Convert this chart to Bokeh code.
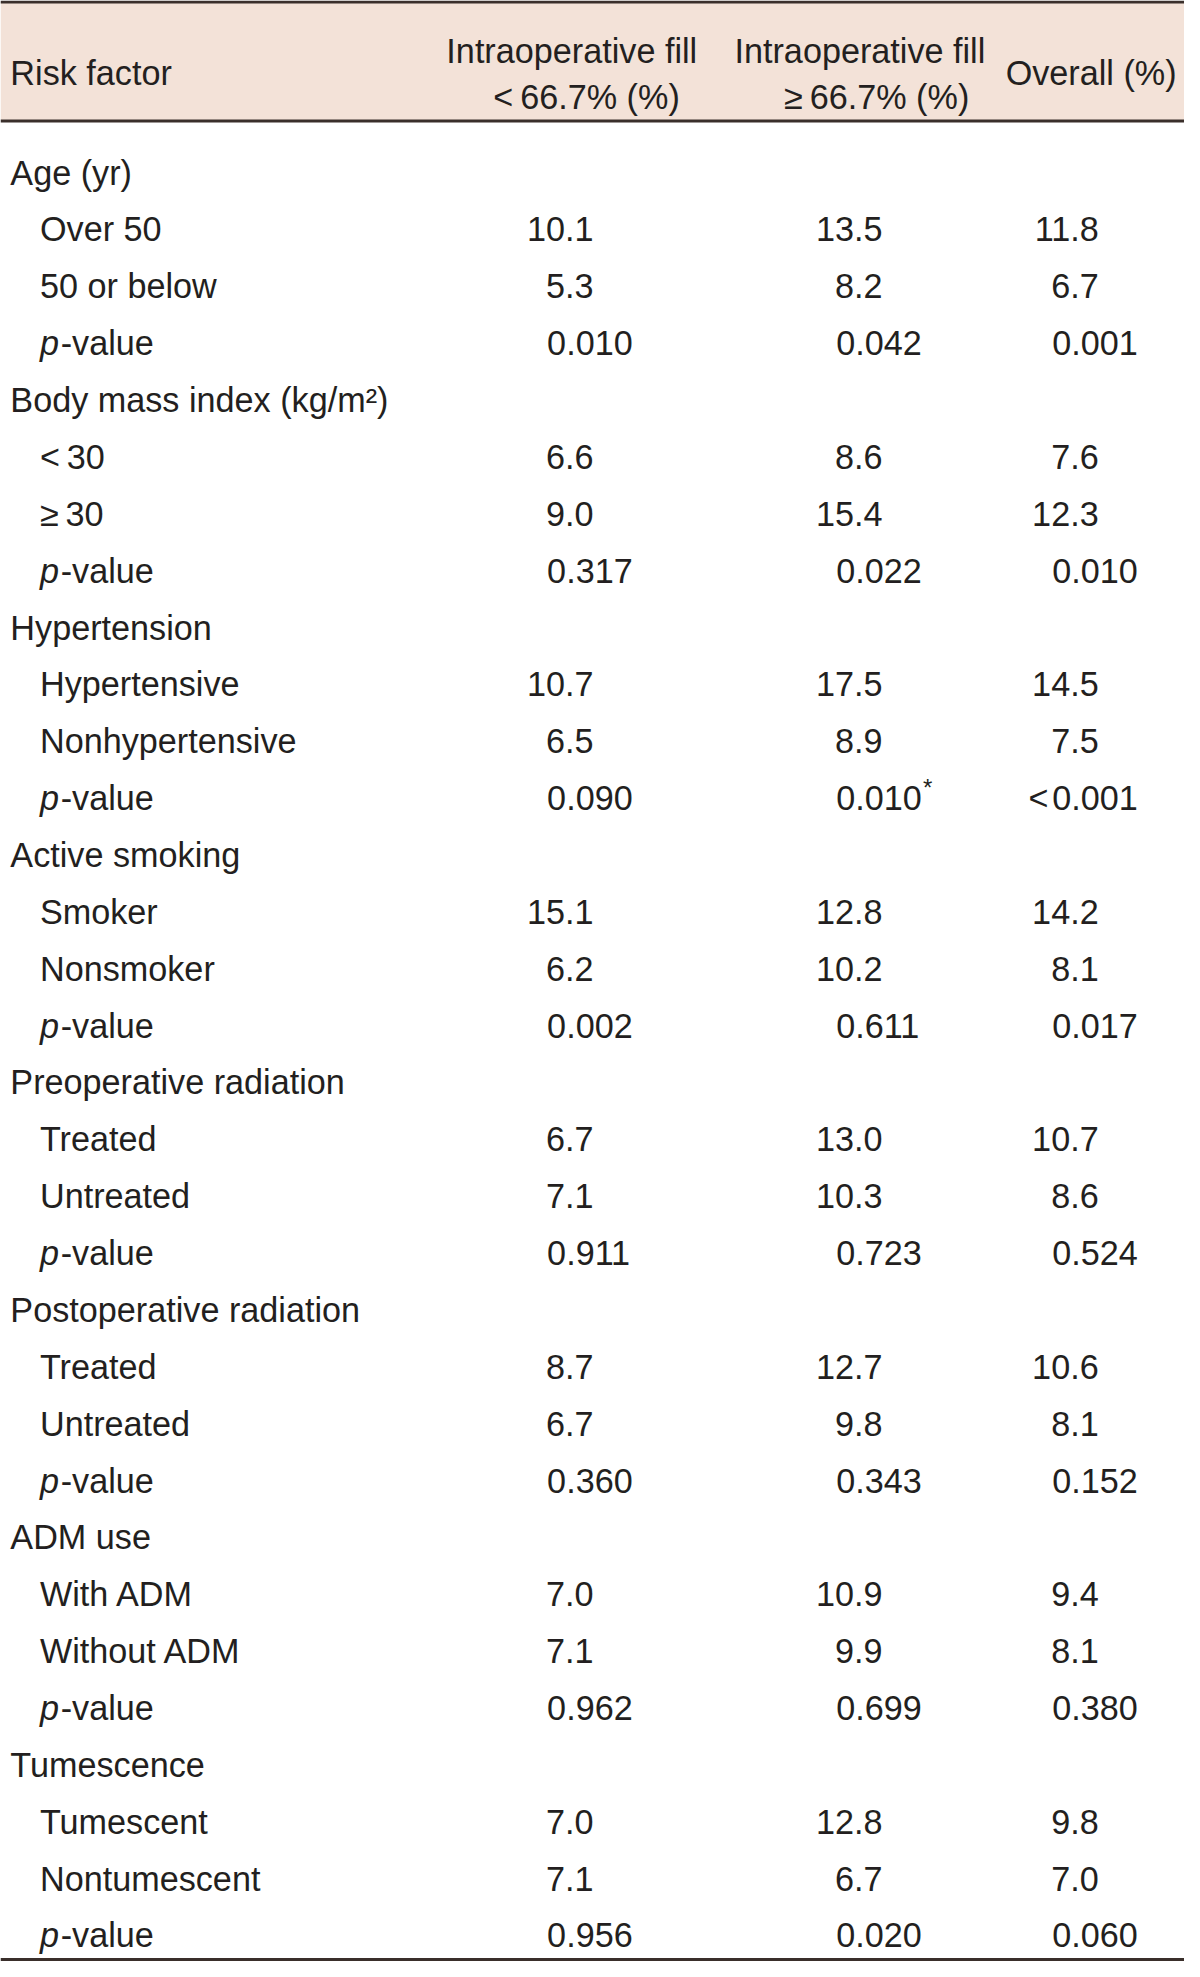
from bokeh.plotting import figure
from bokeh.models import Range1d, ColumnDataSource
from bokeh.core.properties import value
from bokeh.embed import file_html
from bokeh.resources import INLINE

# ---------------- data ----------------
header_cols = [["Risk factor"], ["Intraoperative fill", "<\u200966.7% (%)"],
               ["Intraoperative fill", "\u2265\u200966.7% (%)"], ["Overall (%)"]]
groups = ["Age (yr)", "Body mass index (kg/m\u00b2)", "Hypertension", "Active smoking",
          "Preoperative radiation", "Postoperative radiation", "ADM use", "Tumescence"]
sublabels = [["Over 50", "50 or below"], ["<\u200930", "\u2265\u200930"],
             ["Hypertensive", "Nonhypertensive"], ["Smoker", "Nonsmoker"],
             ["Treated", "Untreated"], ["Treated", "Untreated"],
             ["With ADM", "Without ADM"], ["Tumescent", "Nontumescent"]]
fill_low = [[10.1, 5.3], [6.6, 9.0], [10.7, 6.5], [15.1, 6.2],
            [6.7, 7.1], [8.7, 6.7], [7.0, 7.1], [7.0, 7.1]]
fill_high = [[13.5, 8.2], [8.6, 15.4], [17.5, 8.9], [12.8, 10.2],
             [13.0, 10.3], [12.7, 9.8], [10.9, 9.9], [12.8, 6.7]]
overall = [[11.8, 6.7], [7.6, 12.3], [14.5, 7.5], [14.2, 8.1],
           [10.7, 8.6], [10.6, 8.1], [9.4, 8.1], [9.8, 7.0]]
p_low = ["0.010", "0.317", "0.090", "0.002", "0.911", "0.360", "0.962", "0.956"]
p_high = ["0.042", "0.022", "0.010*", "0.611", "0.723", "0.343", "0.699", "0.020"]
p_overall = ["0.001", "0.010", "<0.001", "0.017", "0.524", "0.152", "0.380", "0.060"]

# ---------------- layout (data units == reference pixels, scaled to fit) ----------------
W, H = 1200, 1977
FONT = "Liberation Sans"
FS = "34.2px"
TXT = "#231f20"
LINE = "#3a2f2b"
HEAD_BG = "#f3e2d8"

p = figure(width=1184, height=1961, x_range=Range1d(0, W), y_range=Range1d(H, 0),
           output_backend="svg", toolbar_location=None, min_border=0)
p.axis.visible = False
p.grid.visible = False
p.outline_line_color = None
p.background_fill_color = "white"
p.border_fill_color = "white"

# header band and rules
p.quad(left=[0], right=[W], top=[1.5], bottom=[121], fill_color=HEAD_BG, line_color=None)
p.segment(x0=[0] * 3, x1=[W] * 3, y0=[1.5, 121.5, 1975], y1=[1.5, 121.5, 1975],
          line_color=LINE, line_width=3)

def txt(xs, ys, texts, align="left", style="normal", size=FS):
    src = ColumnDataSource(dict(x=xs, y=ys, t=texts))
    p.text(x="x", y="y", text="t", source=src, text_font=value(FONT),
           text_font_size=size, text_color=TXT, text_align=align,
           text_baseline="alphabetic", text_font_style=style)

# header text
txt([10], [73], header_cols[0])
txt([579, 594], [51, 97], header_cols[1], align="center")
txt([871, 888], [51, 97], header_cols[2], align="center")
txt([1192], [73], header_cols[3], align="right")

# body
ROW0, PITCH = 173.5, 57.33
RIGHT = [601, 894, 1113]       # right edge of percentages
LEFTP = [554, 847, 1066]       # left edge of p-values
cols_pct = [fill_low, fill_high, overall]
cols_p = [p_low, p_high, p_overall]

gx, gy, gt = [], [], []
sx, sy, st = [], [], []
px_, py_ = [], []
vx, vy, vt = [], [], []
nx, ny, nt = [], [], []
prx, pry, prt = [], [], []
ax, ay, at = [], [], []
for g in range(len(groups)):
    base = ROW0 + PITCH * 4 * g
    gx.append(10); gy.append(base); gt.append(groups[g])
    for k in range(2):
        yy = base + PITCH * (k + 1)
        sx.append(40); sy.append(yy); st.append(sublabels[g][k])
        for c in range(3):
            vx.append(RIGHT[c]); vy.append(yy); vt.append(f"{cols_pct[c][g][k]:.1f}")
    yy = base + PITCH * 3
    px_.append(40); py_.append(yy)
    for c in range(3):
        s = cols_p[c][g]
        pre = ""
        star = ""
        if s.startswith("<"):
            pre, s = "<", s[1:]
        if s.endswith("*"):
            star, s = "*", s[:-1]
        nx.append(LEFTP[c]); ny.append(yy); nt.append(s)
        if pre:
            prx.append(LEFTP[c] - 4); pry.append(yy); prt.append(pre)
        if star:
            ax.append(LEFTP[c] + 88); ay.append(yy - 11); at.append(star)

txt(gx, gy, gt)
txt(sx, sy, st)
txt(px_, py_, ["p"] * len(px_), style="italic")
txt([x + 21 for x in px_], py_, ["-value"] * len(px_))
txt(vx, vy, vt, align="right")
txt(nx, ny, nt)
if prt:
    txt(prx, pry, prt, align="right")
if at:
    txt(ax, ay, at, size="24px")

open("out.html", "w").write(file_html(p, INLINE))
